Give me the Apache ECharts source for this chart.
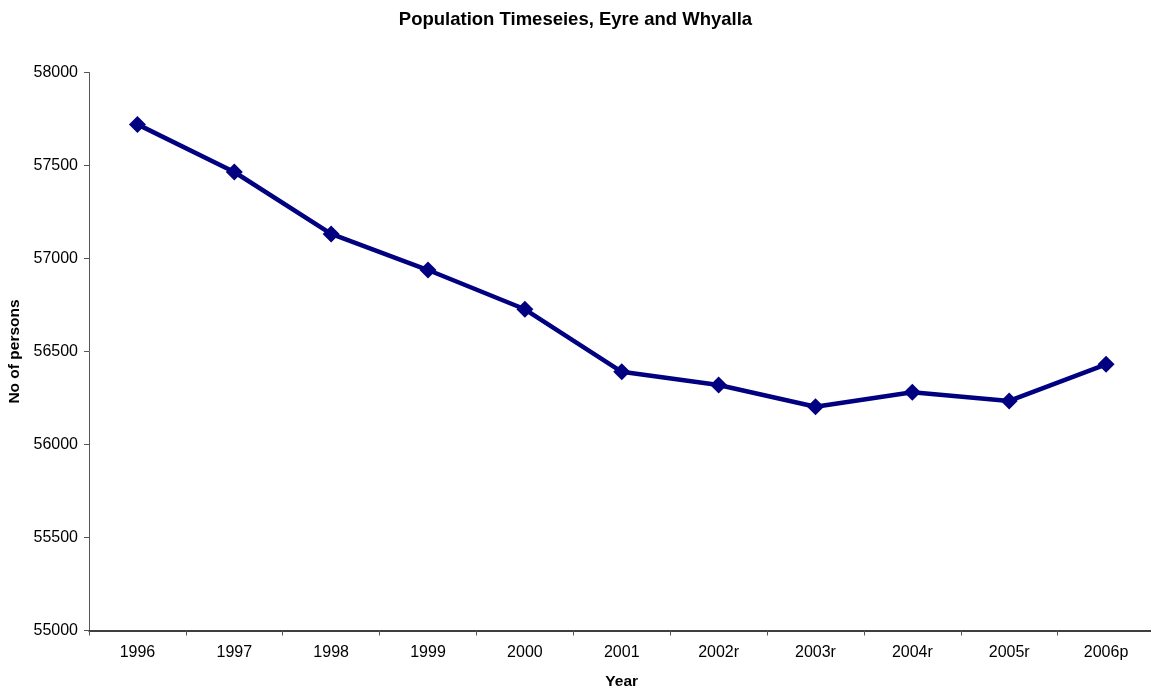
<!DOCTYPE html>
<html>
<head>
<meta charset="utf-8">
<script src="https://cdn.jsdelivr.net/npm/echarts@6/dist/echarts.min.js"></script>
<style>
  html, body { margin: 0; padding: 0; background: #fff; }
  #chart { width: 1151px; height: 689px; }
</style>
</head>
<body>
<div id="chart"></div>
<script>
// Resident population by year, Eyre and Whyalla region
const years = ['1996', '1997', '1998', '1999', '2000', '2001', '2002r', '2003r', '2004r', '2005r', '2006p'];
const persons = [57721, 57465, 57132, 56938, 56727, 56391, 56320, 56203, 56281, 56234, 56431];
const yTicks = { min: 55000, max: 58000, step: 500 };

const FONT = '"Liberation Sans", Arial, sans-serif';

const chart = echarts.init(document.getElementById('chart'), null, { renderer: 'canvas' });
chart.setOption({
  backgroundColor: '#ffffff',
  animation: false,
  title: {
    text: 'Population Timeseies, Eyre and Whyalla',
    left: 'center',
    top: 5,
    textStyle: { fontFamily: FONT, fontSize: 18.5, fontWeight: 'bold', color: '#000' }
  },
  grid: { left: 89, right: -3.5, top: 72.5, bottom: 58.5, containLabel: false, outerBoundsMode: 'none' },
  xAxis: {
    type: 'category',
    data: years,
    boundaryGap: true,
    name: 'Year',
    nameLocation: 'middle',
    nameGap: 43,
    nameTextStyle: { fontFamily: FONT, fontSize: 15.5, fontWeight: 'bold', color: '#000' },
    axisLine: { lineStyle: { color: '#000', width: 1.5 } },
    axisTick: { show: true, length: 5, alignWithLabel: false, lineStyle: { color: '#555' } },
    axisLabel: { fontFamily: FONT, fontSize: 16, color: '#000', margin: 14 },
    splitLine: { show: false }
  },
  yAxis: {
    type: 'value',
    min: yTicks.min,
    max: yTicks.max,
    interval: yTicks.step,
    name: 'No of persons',
    nameLocation: 'middle',
    nameGap: 64,
    nameRotate: 90,
    nameTextStyle: { fontFamily: FONT, fontSize: 15.5, fontWeight: 'bold', color: '#000' },
    axisLine: { show: true, lineStyle: { color: '#555', width: 1 } },
    axisTick: { show: true, length: 5, lineStyle: { color: '#555' } },
    axisLabel: { fontFamily: FONT, fontSize: 16, color: '#000', margin: 11, formatter: v => String(v) },
    splitLine: { show: false }
  },
  series: [{
    type: 'line',
    data: persons,
    symbol: 'diamond',
    symbolSize: 17,
    lineStyle: { color: '#000080', width: 4.5 },
    itemStyle: { color: '#000080' },
    label: { show: false }
  }]
});
</script>
</body>
</html>
